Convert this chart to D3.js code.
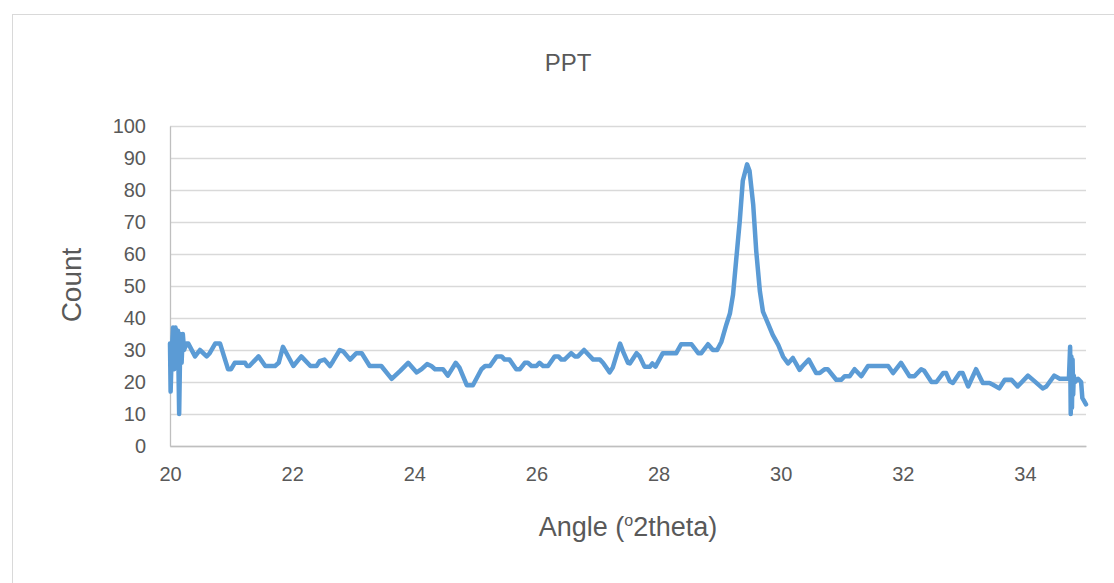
<!DOCTYPE html>
<html>
<head>
<meta charset="utf-8">
<script src="https://cdn.jsdelivr.net/npm/d3@7"></script>
<style>
  body { margin: 0; background: #fff; }
  #chart { width: 1114px; height: 583px; }
  text { font-family: "Liberation Sans", Arial, sans-serif; fill: #595959; }
</style>
</head>
<body>
<div id="chart"></div>
<script>
// XRD scan, PPT sample

var angles = [
  20.00, 20.01, 20.03, 20.05, 20.07, 20.09, 20.11, 20.13, 20.15, 20.17,
  20.19, 20.21, 20.23, 20.27, 20.30, 20.41, 20.49, 20.60, 20.65, 20.74,
  20.82, 20.95, 21.00, 21.06, 21.23, 21.26, 21.30, 21.45, 21.56, 21.72,
  21.78, 21.85, 22.02, 22.15, 22.30, 22.40, 22.45, 22.53, 22.62, 22.67,
  22.78, 22.84, 22.95, 23.05, 23.14, 23.27, 23.46, 23.63, 23.77, 23.90,
  24.04, 24.12, 24.21, 24.28, 24.34, 24.47, 24.55, 24.68, 24.74, 24.86,
  24.96, 25.10, 25.16, 25.24, 25.35, 25.43, 25.48, 25.56, 25.67, 25.73,
  25.81, 25.86, 25.92, 26.00, 26.05, 26.11, 26.19, 26.30, 26.36, 26.41,
  26.46, 26.57, 26.63, 26.68, 26.78, 26.93, 27.04, 27.09, 27.20, 27.25,
  27.37, 27.42, 27.50, 27.53, 27.64, 27.69, 27.77, 27.86, 27.90, 27.95,
  28.07, 28.29, 28.37, 28.54, 28.65, 28.70, 28.81, 28.89, 28.96, 29.03,
  29.11, 29.17, 29.22, 29.27, 29.33, 29.38, 29.45, 29.49, 29.55, 29.60,
  29.66, 29.71, 29.79, 29.87, 29.96, 30.04, 30.12, 30.20, 30.31, 30.36,
  30.46, 30.58, 30.64, 30.72, 30.77, 30.91, 30.99, 31.05, 31.13, 31.21,
  31.32, 31.43, 31.76, 31.84, 31.97, 32.11, 32.19, 32.30, 32.35, 32.47,
  32.55, 32.66, 32.71, 32.77, 32.82, 32.93, 32.98, 33.07, 33.20, 33.31,
  33.42, 33.47, 33.58, 33.67, 33.78, 33.88, 34.05, 34.16, 34.29, 34.35,
  34.48, 34.57, 34.72, 34.74, 34.75, 34.76, 34.77, 34.78, 34.79, 34.80,
  34.82, 34.87, 34.92, 34.94, 34.97, 35.00
];

var counts = [
  32, 17, 30, 37, 24, 37, 28, 36, 10, 35,
  26, 35, 30, 32, 32, 28, 30, 28, 29, 32,
  32, 24, 24, 26, 26, 25, 25, 28, 25, 25,
  26, 31, 25, 28, 25, 25, 26.5, 27, 25, 26.5,
  30, 29.5, 27, 29, 29, 25, 25, 21, 23.5, 26,
  23, 24, 25.6, 25, 24, 24, 22, 26, 24.5, 19,
  19, 24, 25, 25, 28, 28, 27, 27, 24, 24,
  26, 26, 25, 25, 26, 25, 25, 28, 28, 27,
  27, 29, 28, 28, 30, 27, 27, 26, 23, 24.5,
  32, 29.5, 26, 25.8, 29, 28, 24.8, 24.8, 25.8, 24.8,
  29, 29, 31.8, 31.8, 29, 29, 31.8, 30, 30, 32.6,
  37.9, 41.5, 47.3, 57.8, 70.3, 82.9, 88, 86, 75.5, 60.9,
  48.3, 42, 38.4, 34.7, 31.6, 27.9, 25.8, 27.5, 23.8, 25,
  27, 22.8, 22.8, 24, 24, 20.7, 20.7, 21.8, 21.8, 24,
  21.8, 25, 25, 22.8, 26, 21.8, 21.8, 24, 23.5, 20,
  20, 22.8, 22.8, 20.2, 19.7, 22.8, 22.8, 18.6, 24, 19.7,
  19.7, 19.2, 18, 20.7, 20.7, 18.6, 22, 20.2, 18, 18.6,
  22, 21, 21, 31, 10, 28, 12, 27, 16, 22,
  20, 21, 20, 15, 14, 13
];

var xTicks = [20, 22, 24, 26, 28, 30, 32, 34];
var yTicks = [0, 10, 20, 30, 40, 50, 60, 70, 80, 90, 100];

var XrdChart = function (props) {
  this.element = props.element;
  this.title = props.title;
  this.yTitle = props.yTitle;
  this.width = 1114;
  this.height = 583;
  this.margin = {top: 126, bottom: 137, left: 170, right: 28};
  this.draw();
};

XrdChart.prototype.draw = function () {
  var that = this;
  d3.select(this.element).html("");

  this.plotWidth = this.width - this.margin.left - this.margin.right;
  this.plotHeight = this.height - this.margin.top - this.margin.bottom;

  this.svg = d3.select(this.element).append("svg")
    .attr("width", this.width)
    .attr("height", this.height);

  // chart frame (runs off the window on the right and bottom)
  this.svg.append("rect")
    .attr("x", 12.5).attr("y", 14.5)
    .attr("width", this.width + 20).attr("height", this.height + 20)
    .attr("fill", "none")
    .attr("stroke", "#d9d9d9");

  this.plot = this.svg.append("g")
    .attr("transform", "translate(" + this.margin.left + "," + this.margin.top + ")");

  // scales
  this.xScale = d3.scaleLinear().domain([20, 35]).range([0, this.plotWidth]);
  this.yScale = d3.scaleLinear().domain([0, 100]).range([this.plotHeight, 0]);

  // horizontal gridlines
  var grid = this.plot.append("g")
    .call(d3.axisLeft(this.yScale).tickValues(yTicks).tickSize(-this.plotWidth).tickFormat(""));
  grid.select(".domain").remove();
  grid.selectAll("line").attr("stroke", "#d9d9d9").attr("stroke-width", 1.3);

  // y axis
  var yAxis = this.plot.append("g")
    .call(d3.axisLeft(this.yScale).tickValues(yTicks).tickSize(0).tickPadding(24));
  yAxis.select(".domain").attr("stroke", "#bfbfbf").attr("stroke-width", 1.3);
  yAxis.selectAll("text")
    .style("font-size", "20px");

  // x axis
  var xAxis = this.plot.append("g")
    .attr("transform", "translate(0," + this.plotHeight + ")")
    .call(d3.axisBottom(this.xScale).tickValues(xTicks).tickSize(0).tickPadding(21));
  xAxis.select(".domain").attr("stroke", "#bfbfbf").attr("stroke-width", 1.3);
  xAxis.selectAll("text")
    .style("font-size", "20px");

  // the scan
  var pts = angles.map(function (a, i) { return [a, counts[i]]; });
  var line = d3.line()
    .x(function (d) { return that.xScale(d[0]); })
    .y(function (d) { return that.yScale(d[1]); });
  this.plot.append("path")
    .datum(pts)
    .attr("d", line)
    .attr("fill", "none")
    .attr("stroke", "#5b9bd5")
    .attr("stroke-width", 4.5)
    .attr("stroke-linejoin", "round")
    .attr("stroke-linecap", "round");

  // titles
  this.svg.append("text")
    .attr("x", 568).attr("y", 71)
    .attr("text-anchor", "middle")
    .style("font-size", "24px")
    .text(this.title);

  var xt = this.svg.append("text")
    .attr("x", 628).attr("y", 536)
    .attr("text-anchor", "middle")
    .style("font-size", "27px");
  xt.append("tspan").text("Angle (");
  xt.append("tspan").attr("dy", -10).style("font-size", "16px").text("o");
  xt.append("tspan").attr("dy", 10).text("2theta)");

  this.svg.append("text")
    .attr("transform", "translate(81,285) rotate(-90)")
    .attr("text-anchor", "middle")
    .style("font-size", "28px")
    .text(this.yTitle);
};

new XrdChart({
  element: document.getElementById("chart"),
  title: "PPT",
  yTitle: "Count"
});
</script>
</body>
</html>
